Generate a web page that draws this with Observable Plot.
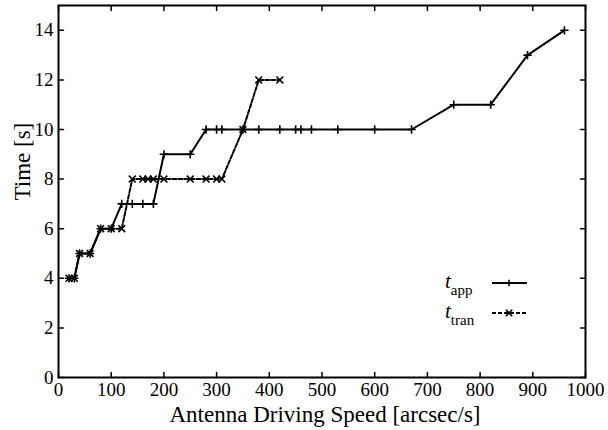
<!DOCTYPE html>
<html><head><meta charset="utf-8">
<script src="https://cdn.jsdelivr.net/npm/d3@7"></script>
<script src="https://cdn.jsdelivr.net/npm/@observablehq/plot@0.6"></script>
<style>
body{margin:0;background:#fff;}
#wrap{position:relative;width:608px;height:430px;font-family:"Liberation Serif",serif;}
#wrap svg text{font-family:"Liberation Serif",serif;}
#legend{position:absolute;left:0;top:0;pointer-events:none;}
</style></head><body><div id="wrap"></div>
<script>
// t_app series
const speedApp = [20,30,40,60,80,100,120,140,160,180,200,250,280,300,310,350,380,420,450,460,480,530,600,670,750,820,890,960];
const timeApp  = [4,4,5,5,6,6,7,7,7,7,9,9,10,10,10,10,10,10,10,10,10,10,10,10,11,11,13,14];
// t_tran series
const speedTran = [20,30,40,60,80,100,120,140,160,170,180,200,250,280,300,310,350,380,420];
const timeTran  = [4,4,5,5,6,6,6,8,8,8,8,8,8,8,8,8,10,12,12];
// ticks
const xTicks = [0,100,200,300,400,500,600,700,800,900,1000];
const yTicks = [0,2,4,6,8,10,12,14];
const xLabel = "Antenna Driving Speed [arcsec/s]";
const yLabel = "Time [s]";

const app = speedApp.map((x,i)=>({x, y: timeApp[i]}));
const tran = speedTran.map((x,i)=>({x, y: timeTran[i]}));

const FF = "Liberation Serif";
const tickShape = {draw(context, l){ context.moveTo(0,0); context.lineTo(0,-l); }};
const tk = {length:5, anchor:"start", shape:tickShape, stroke:"black", strokeWidth:1.5};

const plot = Plot.plot({
  width:608, height:430,
  marginLeft:58, marginRight:23, marginTop:5, marginBottom:53,
  style:"font-family:'Liberation Serif',serif;background:white;color:black;",
  x:{domain:[0,1000]},
  y:{domain:[0,15]},
  marks:[
    Plot.axisX(xTicks, {anchor:"bottom", tickSize:0, tickPadding:5, tickFormat:d=>String(d), label:null, fontSize:19, fontFamily:FF}),
    Plot.axisY(yTicks, {anchor:"left", tickSize:0, tickPadding:5, tickFormat:d=>String(d), label:null, fontSize:19, fontFamily:FF}),
    Plot.vector(xTicks, {x:d=>d, frameAnchor:"bottom", rotate:0, ...tk}),
    Plot.vector(xTicks, {x:d=>d, frameAnchor:"top", rotate:180, ...tk}),
    Plot.vector(yTicks, {y:d=>d, frameAnchor:"left", rotate:90, ...tk}),
    Plot.vector(yTicks, {y:d=>d, frameAnchor:"right", rotate:-90, ...tk}),
    Plot.text([xLabel], {frameAnchor:"bottom", dx:3, dy:28, lineAnchor:"top", text:d=>d, fontSize:23, fontFamily:FF}),
    Plot.text([yLabel], {frameAnchor:"left", dx:-36, dy:9, rotate:-90, text:d=>d, fontSize:23, fontFamily:FF}),
    Plot.line(app, {x:"x", y:"y", stroke:"black", strokeWidth:2}),
    Plot.dot(app, {x:"x", y:"y", symbol:"plus", r:2.8, stroke:"black", strokeWidth:1.6}),
    Plot.line(tran, {x:"x", y:"y", stroke:"black", strokeWidth:2, strokeDasharray:"4,2"}),
    Plot.dot(tran, {x:"x", y:"y", symbol:"times", r:3.2, stroke:"black", strokeWidth:1.6}),
    Plot.frame({stroke:"black", strokeWidth:2})
  ]
});
const wrap = document.getElementById("wrap");
wrap.appendChild(plot);

// legend overlay
const ns = "http://www.w3.org/2000/svg";
const lg = document.createElementNS(ns, "svg");
lg.setAttribute("id","legend");
lg.setAttribute("width",608); lg.setAttribute("height",430);
const items = [
  {name:"app", y:283, dash:null, sym:"plus"},
  {name:"tran", y:313, dash:"4,2", sym:"times"}
];
items.forEach(it=>{
  const t = document.createElementNS(ns,"text");
  t.setAttribute("x",445); t.setAttribute("y",it.y+5);
  t.setAttribute("font-family","Liberation Serif, serif");
  t.setAttribute("font-size","21");
  const a = document.createElementNS(ns,"tspan");
  a.setAttribute("font-style","italic"); a.textContent="t";
  const s = document.createElementNS(ns,"tspan");
  s.setAttribute("font-size","15"); s.setAttribute("dy","7"); s.textContent=it.name;
  t.appendChild(a); t.appendChild(s);
  lg.appendChild(t);
  const l = document.createElementNS(ns,"line");
  l.setAttribute("x1",492); l.setAttribute("x2",527);
  l.setAttribute("y1",it.y); l.setAttribute("y2",it.y);
  l.setAttribute("stroke","black"); l.setAttribute("stroke-width",2);
  if (it.dash) l.setAttribute("stroke-dasharray",it.dash);
  lg.appendChild(l);
  const p = document.createElementNS(ns,"path");
  const c = 509, r = 3.2;
  p.setAttribute("d", it.sym==="plus"
    ? `M${c-r},${it.y}H${c+r}M${c},${it.y-r}V${it.y+r}`
    : `M${c-r},${it.y-r}L${c+r},${it.y+r}M${c-r},${it.y+r}L${c+r},${it.y-r}`);
  p.setAttribute("stroke","black"); p.setAttribute("stroke-width",1.6);
  lg.appendChild(p);
});
wrap.appendChild(lg);
</script>
</body></html>
